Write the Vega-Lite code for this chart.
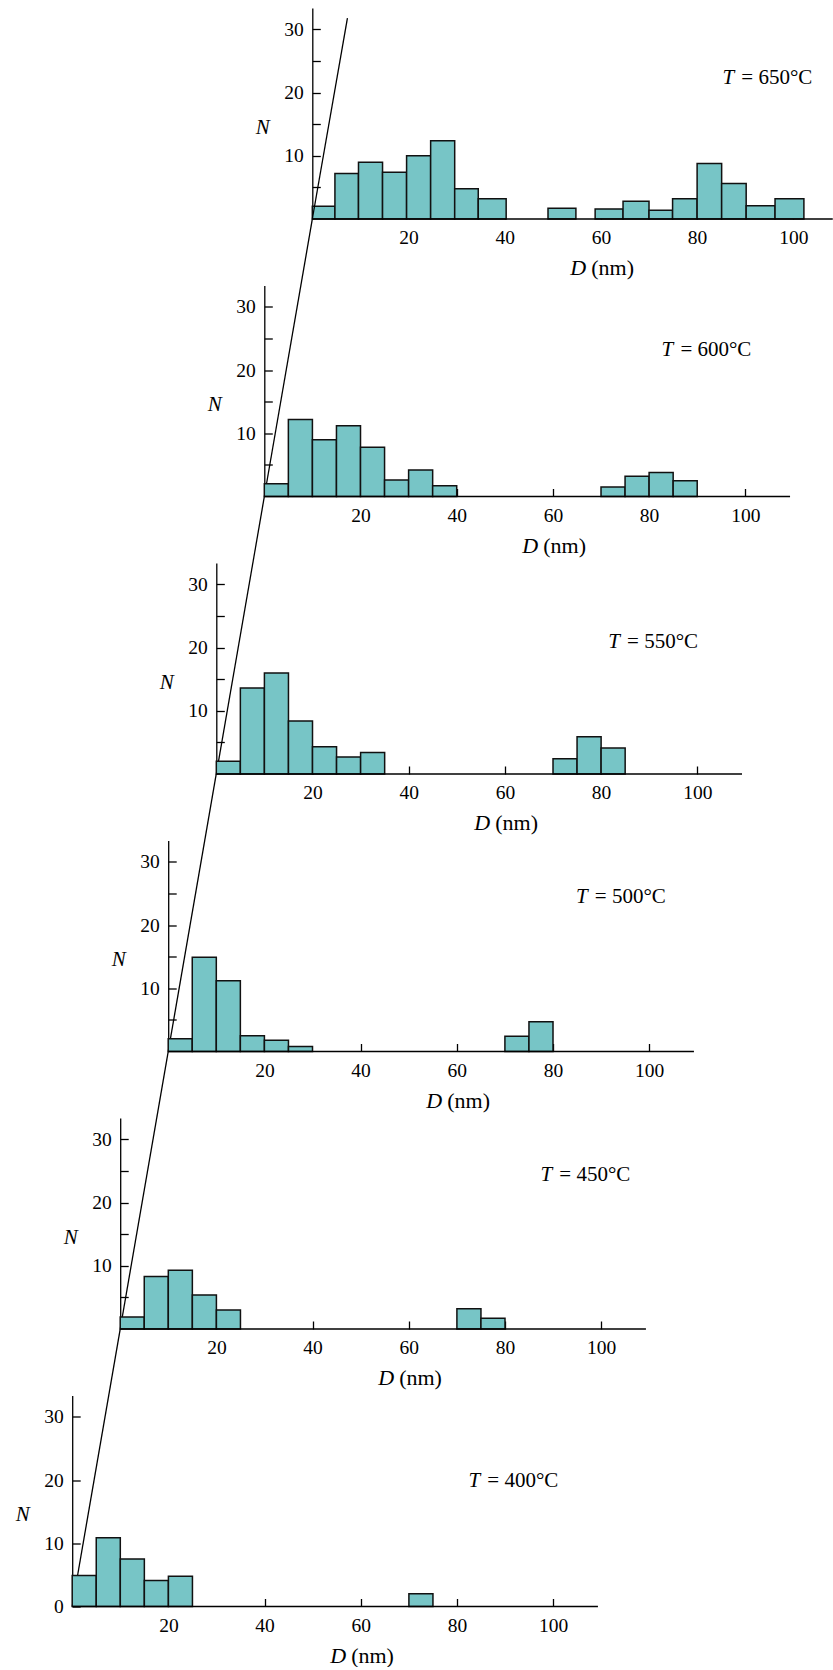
{
  "$schema": "https://vega.github.io/schema/vega-lite/v6.json",
  "padding": {"left": 0, "top": 8, "right": 0, "bottom": 0},
  "background": "white",
  "spacing": 66.5,
  "bounds": "flush",
  "config": {
    "view": {"stroke": null},
    "font": "Liberation Serif",
    "axis": {
      "grid": false,
      "labelFont": "Liberation Serif",
      "labelFontSize": 19.5,
      "labelColor": "black",
      "tickColor": "black",
      "domainColor": "black",
      "tickSize": -8,
      "tickWidth": 1.3,
      "domainWidth": 1.3,
      "titleFont": "Liberation Serif",
      "titleColor": "black"
    },
    "axisX": {"domain": false, "labelPadding": 17.5, "labelBaseline": "top"},
    "axisY": {
      "labelPadding": 17,
      "titleAngle": 0,
      "titleX": -50,
      "titleY": 119,
      "titleAlign": "center",
      "titleBaseline": "middle",
      "titleFontStyle": "italic",
      "titleFontWeight": "normal",
      "titleFontSize": 21
    }
  },
  "datasets": {
    "bars": [
      {"T": 650, "D0": 0, "D1": 4.7, "N": 2.0},
      {"T": 650, "D0": 4.7, "D1": 9.6, "N": 7.2},
      {"T": 650, "D0": 9.6, "D1": 14.6, "N": 9.0},
      {"T": 650, "D0": 14.6, "D1": 19.6, "N": 7.4},
      {"T": 650, "D0": 19.6, "D1": 24.6, "N": 10.0},
      {"T": 650, "D0": 24.6, "D1": 29.6, "N": 12.4},
      {"T": 650, "D0": 29.6, "D1": 34.5, "N": 4.8},
      {"T": 650, "D0": 34.5, "D1": 40.3, "N": 3.2},
      {"T": 650, "D0": 49.0, "D1": 54.8, "N": 1.7},
      {"T": 650, "D0": 58.8, "D1": 64.6, "N": 1.6},
      {"T": 650, "D0": 64.6, "D1": 70.0, "N": 2.8},
      {"T": 650, "D0": 70.0, "D1": 74.9, "N": 1.4},
      {"T": 650, "D0": 74.9, "D1": 80.0, "N": 3.2},
      {"T": 650, "D0": 80.0, "D1": 85.1, "N": 8.8},
      {"T": 650, "D0": 85.1, "D1": 90.2, "N": 5.6},
      {"T": 650, "D0": 90.2, "D1": 96.2, "N": 2.1},
      {"T": 650, "D0": 96.2, "D1": 102.2, "N": 3.2},
      {"T": 600, "D0": 0, "D1": 5, "N": 2.0},
      {"T": 600, "D0": 5, "D1": 10, "N": 12.2},
      {"T": 600, "D0": 10, "D1": 15, "N": 9.0},
      {"T": 600, "D0": 15, "D1": 20, "N": 11.2},
      {"T": 600, "D0": 20, "D1": 25, "N": 7.8},
      {"T": 600, "D0": 25, "D1": 30, "N": 2.6},
      {"T": 600, "D0": 30, "D1": 35, "N": 4.2},
      {"T": 600, "D0": 35, "D1": 40, "N": 1.7},
      {"T": 600, "D0": 70, "D1": 75, "N": 1.5},
      {"T": 600, "D0": 75, "D1": 80, "N": 3.2},
      {"T": 600, "D0": 80, "D1": 85, "N": 3.8},
      {"T": 600, "D0": 85, "D1": 90, "N": 2.5},
      {"T": 550, "D0": 0, "D1": 5, "N": 2.0},
      {"T": 550, "D0": 5, "D1": 10, "N": 13.6},
      {"T": 550, "D0": 10, "D1": 15, "N": 16.0},
      {"T": 550, "D0": 15, "D1": 20, "N": 8.4},
      {"T": 550, "D0": 20, "D1": 25, "N": 4.3},
      {"T": 550, "D0": 25, "D1": 30, "N": 2.7},
      {"T": 550, "D0": 30, "D1": 35, "N": 3.4},
      {"T": 550, "D0": 70, "D1": 75, "N": 2.4},
      {"T": 550, "D0": 75, "D1": 80, "N": 5.9},
      {"T": 550, "D0": 80, "D1": 85, "N": 4.1},
      {"T": 500, "D0": 0, "D1": 5, "N": 2.0},
      {"T": 500, "D0": 5, "D1": 10, "N": 14.9},
      {"T": 500, "D0": 10, "D1": 15, "N": 11.2},
      {"T": 500, "D0": 15, "D1": 20, "N": 2.5},
      {"T": 500, "D0": 20, "D1": 25, "N": 1.8},
      {"T": 500, "D0": 25, "D1": 30, "N": 0.8},
      {"T": 500, "D0": 70, "D1": 75, "N": 2.4},
      {"T": 500, "D0": 75, "D1": 80, "N": 4.7},
      {"T": 450, "D0": 0, "D1": 5, "N": 1.9},
      {"T": 450, "D0": 5, "D1": 10, "N": 8.3},
      {"T": 450, "D0": 10, "D1": 15, "N": 9.3},
      {"T": 450, "D0": 15, "D1": 20, "N": 5.4},
      {"T": 450, "D0": 20, "D1": 25, "N": 3.0},
      {"T": 450, "D0": 70, "D1": 75, "N": 3.2},
      {"T": 450, "D0": 75, "D1": 80, "N": 1.7},
      {"T": 400, "D0": 0, "D1": 5, "N": 4.9},
      {"T": 400, "D0": 5, "D1": 10, "N": 10.9},
      {"T": 400, "D0": 10, "D1": 15, "N": 7.5},
      {"T": 400, "D0": 15, "D1": 20, "N": 4.1},
      {"T": 400, "D0": 20, "D1": 25, "N": 4.8},
      {"T": 400, "D0": 70, "D1": 75, "N": 2.0}
    ]
  },
  "vconcat": [
    {
      "width": 833, "height": 211,
      "layer": [
        {"data": {"name": "bars"}, "transform": [{"filter": "datum.T == 650"}],
         "mark": {"type": "rect", "fill": "#77c5c6", "stroke": "#111111", "strokeWidth": 1.5},
         "encoding": {
           "x": {"field": "D0", "type": "quantitative", "scale": {"domain": [-64.93, 108.25], "nice": false, "zero": false}, "axis": {"values": [20, 40, 60, 80, 100], "title": null}},
           "x2": {"field": "D1"},
           "y": {"field": "N", "type": "quantitative", "scale": {"domain": [0, 33.4], "nice": false, "zero": false}, "axis": {"values": [5, 10, 15, 20, 25, 30], "labelExpr": "datum.value % 10 === 0 ? datum.label : ''", "offset": -312.3, "title": "N"}},
           "y2": {"datum": 0}
         }},
        {"data": {"values": [{}]}, "mark": {"type": "rule", "color": "black", "strokeWidth": 1.3},
         "encoding": {"x": {"datum": 0}, "y": {"datum": 0}, "x2": {"datum": 7.3}, "y2": {"datum": 31.8}}},
        {"data": {"values": [{}]}, "mark": {"type": "rule", "color": "black", "strokeWidth": 1.5},
         "encoding": {"x": {"datum": 0}, "x2": {"datum": 108.2}, "y": {"datum": 0}}},
        {"data": {"values": [{}]}, "mark": {"type": "text", "text": "T", "fontSize": 21, "fontStyle": "italic", "align": "left", "baseline": "alphabetic", "color": "black"},
         "encoding": {"x": {"datum": 85.3}, "y": {"datum": 21.3}}},
        {"data": {"values": [{}]}, "mark": {"type": "text", "text": "= 650°C", "fontSize": 21, "align": "left", "baseline": "alphabetic", "color": "black"},
         "encoding": {"x": {"datum": 89.2}, "y": {"datum": 21.3}}},
        {"data": {"values": [{}]}, "mark": {"type": "text", "text": "D", "fontSize": 22, "fontStyle": "italic", "align": "center", "baseline": "alphabetic", "color": "black"},
         "encoding": {"x": {"datum": 55.3}, "y": {"datum": -8.9}}},
        {"data": {"values": [{}]}, "mark": {"type": "text", "text": "(nm)", "fontSize": 22, "align": "left", "baseline": "alphabetic", "color": "black"},
         "encoding": {"x": {"datum": 58.0}, "y": {"datum": -8.9}}}
      ]
    },
    {
      "width": 833, "height": 211,
      "layer": [
        {"data": {"values": [{}]}, "mark": {"type": "rule", "color": "black", "strokeWidth": 1.3},
         "encoding": {"x": {"datum": 0}, "y": {"datum": 0}, "x2": {"datum": 9.98}, "y2": {"datum": 43.89}}},
        {"data": {"name": "bars"}, "transform": [{"filter": "datum.T == 600"}],
         "mark": {"type": "rect", "fill": "#77c5c6", "stroke": "#111111", "strokeWidth": 1.5},
         "encoding": {
           "x": {"field": "D0", "type": "quantitative", "scale": {"domain": [-54.95, 118.23], "nice": false, "zero": false}, "axis": {"values": [20, 40, 60, 80, 100], "title": null}},
           "x2": {"field": "D1"},
           "y": {"field": "N", "type": "quantitative", "scale": {"domain": [0, 33.4], "nice": false, "zero": false}, "axis": {"values": [5, 10, 15, 20, 25, 30], "labelExpr": "datum.value % 10 === 0 ? datum.label : ''", "offset": -264.3, "title": "N"}},
           "y2": {"datum": 0}
         }},
        {"data": {"values": [{}]}, "mark": {"type": "rule", "color": "black", "strokeWidth": 1.5},
         "encoding": {"x": {"datum": 0}, "x2": {"datum": 109.3}, "y": {"datum": 0}}},
        {"data": {"values": [{}]}, "mark": {"type": "text", "text": "T", "fontSize": 21, "fontStyle": "italic", "align": "left", "baseline": "alphabetic", "color": "black"},
         "encoding": {"x": {"datum": 82.6}, "y": {"datum": 22.3}}},
        {"data": {"values": [{}]}, "mark": {"type": "text", "text": "= 600°C", "fontSize": 21, "align": "left", "baseline": "alphabetic", "color": "black"},
         "encoding": {"x": {"datum": 86.5}, "y": {"datum": 22.3}}},
        {"data": {"values": [{}]}, "mark": {"type": "text", "text": "D", "fontSize": 22, "fontStyle": "italic", "align": "center", "baseline": "alphabetic", "color": "black"},
         "encoding": {"x": {"datum": 55.3}, "y": {"datum": -8.9}}},
        {"data": {"values": [{}]}, "mark": {"type": "text", "text": "(nm)", "fontSize": 22, "align": "left", "baseline": "alphabetic", "color": "black"},
         "encoding": {"x": {"datum": 58.0}, "y": {"datum": -8.9}}}
      ]
    },
    {
      "width": 833, "height": 211,
      "layer": [
        {"data": {"values": [{}]}, "mark": {"type": "rule", "color": "black", "strokeWidth": 1.3},
         "encoding": {"x": {"datum": 0}, "y": {"datum": 0}, "x2": {"datum": 9.98}, "y2": {"datum": 43.89}}},
        {"data": {"name": "bars"}, "transform": [{"filter": "datum.T == 550"}],
         "mark": {"type": "rect", "fill": "#77c5c6", "stroke": "#111111", "strokeWidth": 1.5},
         "encoding": {
           "x": {"field": "D0", "type": "quantitative", "scale": {"domain": [-44.97, 128.21], "nice": false, "zero": false}, "axis": {"values": [20, 40, 60, 80, 100], "title": null}},
           "x2": {"field": "D1"},
           "y": {"field": "N", "type": "quantitative", "scale": {"domain": [0, 33.4], "nice": false, "zero": false}, "axis": {"values": [5, 10, 15, 20, 25, 30], "labelExpr": "datum.value % 10 === 0 ? datum.label : ''", "offset": -216.3, "title": "N"}},
           "y2": {"datum": 0}
         }},
        {"data": {"values": [{}]}, "mark": {"type": "rule", "color": "black", "strokeWidth": 1.5},
         "encoding": {"x": {"datum": 0}, "x2": {"datum": 109.3}, "y": {"datum": 0}}},
        {"data": {"values": [{}]}, "mark": {"type": "text", "text": "T", "fontSize": 21, "fontStyle": "italic", "align": "left", "baseline": "alphabetic", "color": "black"},
         "encoding": {"x": {"datum": 81.5}, "y": {"datum": 19.9}}},
        {"data": {"values": [{}]}, "mark": {"type": "text", "text": "= 550°C", "fontSize": 21, "align": "left", "baseline": "alphabetic", "color": "black"},
         "encoding": {"x": {"datum": 85.4}, "y": {"datum": 19.9}}},
        {"data": {"values": [{}]}, "mark": {"type": "text", "text": "D", "fontSize": 22, "fontStyle": "italic", "align": "center", "baseline": "alphabetic", "color": "black"},
         "encoding": {"x": {"datum": 55.3}, "y": {"datum": -8.9}}},
        {"data": {"values": [{}]}, "mark": {"type": "text", "text": "(nm)", "fontSize": 22, "align": "left", "baseline": "alphabetic", "color": "black"},
         "encoding": {"x": {"datum": 58.0}, "y": {"datum": -8.9}}}
      ]
    },
    {
      "width": 833, "height": 211,
      "layer": [
        {"data": {"values": [{}]}, "mark": {"type": "rule", "color": "black", "strokeWidth": 1.3},
         "encoding": {"x": {"datum": 0}, "y": {"datum": 0}, "x2": {"datum": 9.98}, "y2": {"datum": 43.89}}},
        {"data": {"name": "bars"}, "transform": [{"filter": "datum.T == 500"}],
         "mark": {"type": "rect", "fill": "#77c5c6", "stroke": "#111111", "strokeWidth": 1.5},
         "encoding": {
           "x": {"field": "D0", "type": "quantitative", "scale": {"domain": [-34.97, 138.21], "nice": false, "zero": false}, "axis": {"values": [20, 40, 60, 80, 100], "title": null}},
           "x2": {"field": "D1"},
           "y": {"field": "N", "type": "quantitative", "scale": {"domain": [0, 33.4], "nice": false, "zero": false}, "axis": {"values": [5, 10, 15, 20, 25, 30], "labelExpr": "datum.value % 10 === 0 ? datum.label : ''", "offset": -168.2, "title": "N"}},
           "y2": {"datum": 0}
         }},
        {"data": {"values": [{}]}, "mark": {"type": "rule", "color": "black", "strokeWidth": 1.5},
         "encoding": {"x": {"datum": 0}, "x2": {"datum": 109.3}, "y": {"datum": 0}}},
        {"data": {"values": [{}]}, "mark": {"type": "text", "text": "T", "fontSize": 21, "fontStyle": "italic", "align": "left", "baseline": "alphabetic", "color": "black"},
         "encoding": {"x": {"datum": 84.8}, "y": {"datum": 23.5}}},
        {"data": {"values": [{}]}, "mark": {"type": "text", "text": "= 500°C", "fontSize": 21, "align": "left", "baseline": "alphabetic", "color": "black"},
         "encoding": {"x": {"datum": 88.7}, "y": {"datum": 23.5}}},
        {"data": {"values": [{}]}, "mark": {"type": "text", "text": "D", "fontSize": 22, "fontStyle": "italic", "align": "center", "baseline": "alphabetic", "color": "black"},
         "encoding": {"x": {"datum": 55.3}, "y": {"datum": -8.9}}},
        {"data": {"values": [{}]}, "mark": {"type": "text", "text": "(nm)", "fontSize": 22, "align": "left", "baseline": "alphabetic", "color": "black"},
         "encoding": {"x": {"datum": 58.0}, "y": {"datum": -8.9}}}
      ]
    },
    {
      "width": 833, "height": 211,
      "layer": [
        {"data": {"values": [{}]}, "mark": {"type": "rule", "color": "black", "strokeWidth": 1.3},
         "encoding": {"x": {"datum": 0}, "y": {"datum": 0}, "x2": {"datum": 9.98}, "y2": {"datum": 43.89}}},
        {"data": {"name": "bars"}, "transform": [{"filter": "datum.T == 450"}],
         "mark": {"type": "rect", "fill": "#77c5c6", "stroke": "#111111", "strokeWidth": 1.5},
         "encoding": {
           "x": {"field": "D0", "type": "quantitative", "scale": {"domain": [-24.99, 148.19], "nice": false, "zero": false}, "axis": {"values": [20, 40, 60, 80, 100], "title": null}},
           "x2": {"field": "D1"},
           "y": {"field": "N", "type": "quantitative", "scale": {"domain": [0, 33.4], "nice": false, "zero": false}, "axis": {"values": [5, 10, 15, 20, 25, 30], "labelExpr": "datum.value % 10 === 0 ? datum.label : ''", "offset": -120.2, "title": "N"}},
           "y2": {"datum": 0}
         }},
        {"data": {"values": [{}]}, "mark": {"type": "rule", "color": "black", "strokeWidth": 1.5},
         "encoding": {"x": {"datum": 0}, "x2": {"datum": 109.3}, "y": {"datum": 0}}},
        {"data": {"values": [{}]}, "mark": {"type": "text", "text": "T", "fontSize": 21, "fontStyle": "italic", "align": "left", "baseline": "alphabetic", "color": "black"},
         "encoding": {"x": {"datum": 87.4}, "y": {"datum": 23.5}}},
        {"data": {"values": [{}]}, "mark": {"type": "text", "text": "= 450°C", "fontSize": 21, "align": "left", "baseline": "alphabetic", "color": "black"},
         "encoding": {"x": {"datum": 91.3}, "y": {"datum": 23.5}}},
        {"data": {"values": [{}]}, "mark": {"type": "text", "text": "D", "fontSize": 22, "fontStyle": "italic", "align": "center", "baseline": "alphabetic", "color": "black"},
         "encoding": {"x": {"datum": 55.3}, "y": {"datum": -8.9}}},
        {"data": {"values": [{}]}, "mark": {"type": "text", "text": "(nm)", "fontSize": 22, "align": "left", "baseline": "alphabetic", "color": "black"},
         "encoding": {"x": {"datum": 58.0}, "y": {"datum": -8.9}}}
      ]
    },
    {
      "width": 833, "height": 211,
      "layer": [
        {"data": {"values": [{}]}, "mark": {"type": "rule", "color": "black", "strokeWidth": 1.3},
         "encoding": {"x": {"datum": 0}, "y": {"datum": 0}, "x2": {"datum": 9.98}, "y2": {"datum": 43.89}}},
        {"data": {"name": "bars"}, "transform": [{"filter": "datum.T == 400"}],
         "mark": {"type": "rect", "fill": "#77c5c6", "stroke": "#111111", "strokeWidth": 1.5},
         "encoding": {
           "x": {"field": "D0", "type": "quantitative", "scale": {"domain": [-15.01, 158.17], "nice": false, "zero": false}, "axis": {"values": [20, 40, 60, 80, 100], "title": null}},
           "x2": {"field": "D1"},
           "y": {"field": "N", "type": "quantitative", "scale": {"domain": [0, 33.4], "nice": false, "zero": false}, "axis": {"values": [0, 5, 10, 15, 20, 25, 30], "labelExpr": "datum.value % 10 === 0 ? datum.label : ''", "offset": -72.2, "title": "N"}},
           "y2": {"datum": 0}
         }},
        {"data": {"values": [{}]}, "mark": {"type": "rule", "color": "black", "strokeWidth": 1.5},
         "encoding": {"x": {"datum": 0}, "x2": {"datum": 109.3}, "y": {"datum": 0}}},
        {"data": {"values": [{}]}, "mark": {"type": "text", "text": "T", "fontSize": 21, "fontStyle": "italic", "align": "left", "baseline": "alphabetic", "color": "black"},
         "encoding": {"x": {"datum": 82.4}, "y": {"datum": 18.9}}},
        {"data": {"values": [{}]}, "mark": {"type": "text", "text": "= 400°C", "fontSize": 21, "align": "left", "baseline": "alphabetic", "color": "black"},
         "encoding": {"x": {"datum": 86.3}, "y": {"datum": 18.9}}},
        {"data": {"values": [{}]}, "mark": {"type": "text", "text": "D", "fontSize": 22, "fontStyle": "italic", "align": "center", "baseline": "alphabetic", "color": "black"},
         "encoding": {"x": {"datum": 55.3}, "y": {"datum": -8.9}}},
        {"data": {"values": [{}]}, "mark": {"type": "text", "text": "(nm)", "fontSize": 22, "align": "left", "baseline": "alphabetic", "color": "black"},
         "encoding": {"x": {"datum": 58.0}, "y": {"datum": -8.9}}}
      ]
    }
  ]
}
